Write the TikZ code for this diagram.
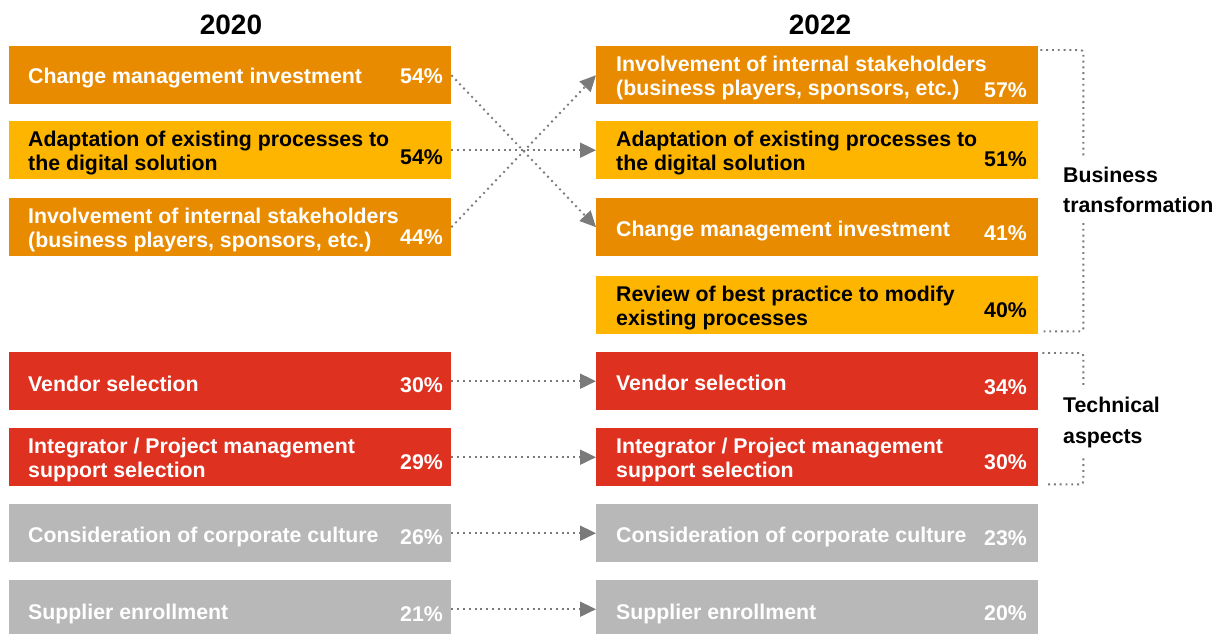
\documentclass[tikz,border=0pt]{standalone}
\usepackage{fontspec}
\setmainfont{Liberation Sans}
\usetikzlibrary{arrows.meta}
\definecolor{dorange}{HTML}{E88B00}
\definecolor{yorange}{HTML}{FDB500}
\definecolor{cred}{HTML}{DF3120}
\definecolor{cgray}{HTML}{B8B8B8}
\definecolor{lgray}{HTML}{7A7A7A}
\begin{document}
\begin{tikzpicture}[x=1pt,y=-1pt,
 box/.style={draw=none, minimum width=442pt, minimum height=58pt, inner sep=0pt, anchor=north west, fill=#1},
 txt/.style={anchor=west, inner sep=0pt, align=left, font=\bfseries\fontsize{21.3}{24}\selectfont, text=#1},
 pct/.style={anchor=east, inner sep=0pt, font=\bfseries\fontsize{21.3}{24}\selectfont, text=#1},
 link/.style={lgray, line width=1.9pt, dash pattern=on 1.9pt off 3.9pt, -{Triangle[length=16pt,width=15pt]}},
 brk/.style={lgray, line width=1.9pt, dash pattern=on 1.9pt off 3.9pt, rounded corners=3pt},
 lab/.style={anchor=west, inner xsep=0pt, inner ysep=8pt, fill=white, align=left, font=\bfseries\fontsize{21.3}{30.5}\selectfont},
 head/.style={inner sep=0pt, font=\bfseries\fontsize{28}{30}\selectfont}]
\clip (0,0) rectangle (1217,633);
\fill[white] (0,0) rectangle (1217,633);

% headers
\node[head] (h1) at (231,25) {2020};
\node[head] (h2) at (820,25) {2022};

% left column (2020)
\node[box=dorange] (l1) at (9,46) {};
\node[txt=white] (l1t) at (28,78) {Change management investment};
\node[pct=white] (l1p) at (443,76) {54\%};

\node[box=yorange] (l2) at (9,121) {};
\node[txt=black] (l2t) at (28,153) {Adaptation of existing processes to\\the digital solution};
\node[pct=black] (l2p) at (443,157) {54\%};

\node[box=dorange] (l3) at (9,198) {};
\node[txt=white] (l3t) at (28,230) {Involvement of internal stakeholders\\(business players, sponsors, etc.)};
\node[pct=white] (l3p) at (443,237) {44\%};

\node[box=cred] (l5) at (9,352) {};
\node[txt=white] (l5t) at (28,384) {Vendor selection};
\node[pct=white] (l5p) at (443,385) {30\%};

\node[box=cred] (l6) at (9,428) {};
\node[txt=white] (l6t) at (28,460) {Integrator / Project management\\support selection};
\node[pct=white] (l6p) at (443,462) {29\%};

\node[box=cgray] (l7) at (9,504) {};
\node[txt=white] (l7t) at (28,537) {Consideration of corporate culture};
\node[pct=white] (l7p) at (443,537) {26\%};

\node[box=cgray] (l8) at (9,580) {};
\node[txt=white] (l8t) at (28,614) {Supplier enrollment};
\node[pct=white] (l8p) at (443,614) {21\%};

% right column (2022)
\node[box=dorange] (r1) at (596,46) {};
\node[txt=white] (r1t) at (616,77.5) {Involvement of internal stakeholders\\(business players, sponsors, etc.)};
\node[pct=white] (r1p) at (1027,90) {57\%};

\node[box=yorange] (r2) at (596,121) {};
\node[txt=black] (r2t) at (616,153) {Adaptation of existing processes to\\the digital solution};
\node[pct=black] (r2p) at (1027,159) {51\%};

\node[box=dorange] (r3) at (596,198) {};
\node[txt=white] (r3t) at (616,231) {Change management investment};
\node[pct=white] (r3p) at (1027,233) {41\%};

\node[box=yorange] (r4) at (596,276) {};
\node[txt=black] (r4t) at (616,308) {Review of best practice to modify\\existing processes};
\node[pct=black] (r4p) at (1027,310) {40\%};

\node[box=cred] (r5) at (596,352) {};
\node[txt=white] (r5t) at (616,383) {Vendor selection};
\node[pct=white] (r5p) at (1027,387) {34\%};

\node[box=cred] (r6) at (596,428) {};
\node[txt=white] (r6t) at (616,460) {Integrator / Project management\\support selection};
\node[pct=white] (r6p) at (1027,462) {30\%};

\node[box=cgray] (r7) at (596,504) {};
\node[txt=white] (r7t) at (616,537) {Consideration of corporate culture};
\node[pct=white] (r7p) at (1027,538) {23\%};

\node[box=cgray] (r8) at (596,580) {};
\node[txt=white] (r8t) at (616,614) {Supplier enrollment};
\node[pct=white] (r8p) at (1027,613) {20\%};

% connectors
\draw[link] (l1.east) -- (r3.west);
\draw[link] (l2.east) -- (r2.west);
\draw[link] (l3.east) -- (r1.west);
\draw[link] (l5.east) -- (r5.west);
\draw[link] (l6.east) -- (r6.west);
\draw[link] (l7.east) -- (r7.west);
\draw[link] (l8.east) -- (r8.west);

% brackets
\draw[brk] ([yshift=-4pt,xshift=2pt]r1.north east) -- ++(43,0) |- ([xshift=2pt,yshift=3pt]r4.south east);
\node[lab] (bt) at (1063,190) {Business\\transformation};
\draw[brk] ([yshift=-1pt,xshift=4pt]r5.north east) -- ++(41,0) |- ([xshift=7pt,yshift=2pt]r6.south east);
\node[lab] (ta) at (1063,422.5) {Technical\\aspects};
\end{tikzpicture}
\end{document}
